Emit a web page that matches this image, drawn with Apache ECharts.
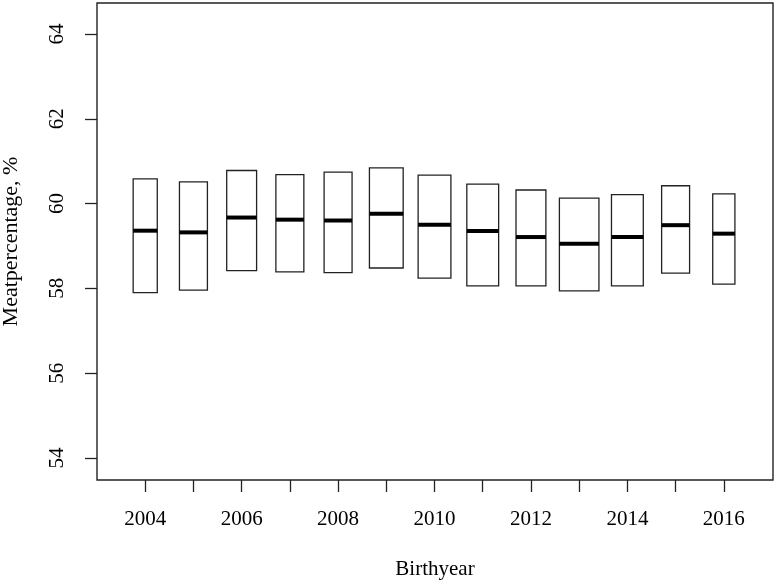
<!DOCTYPE html>
<html>
<head>
<meta charset="utf-8">
<script src="https://cdn.jsdelivr.net/npm/echarts@6/dist/echarts.min.js"></script>
<style>html,body{margin:0;padding:0;background:#fff;}#c{width:776px;height:581px;}</style>
</head>
<body>
<div id="c"></div>
<script>
// Data
const years = [2004, 2005, 2006, 2007, 2008, 2009, 2010, 2011, 2012, 2013, 2014, 2015, 2016];
const lowerQ = [57.90, 57.96, 58.42, 58.39, 58.37, 58.48, 58.24, 58.06, 58.06, 57.94, 58.06, 58.36, 58.10];
const medians = [59.36, 59.32, 59.67, 59.62, 59.60, 59.76, 59.50, 59.35, 59.21, 59.05, 59.21, 59.49, 59.29];
const upperQ = [60.58, 60.51, 60.78, 60.68, 60.74, 60.84, 60.67, 60.46, 60.32, 60.13, 60.21, 60.42, 60.23];
// relative box width (varwidth), in years
const relWidth = [0.50, 0.58, 0.62, 0.58, 0.58, 0.70, 0.68, 0.66, 0.62, 0.82, 0.66, 0.58, 0.46];
const xLabelYears = [2004, 2006, 2008, 2010, 2012, 2014, 2016];
const yTicks = [54, 56, 58, 60, 62, 64];

const FONT = 'Liberation Serif';
const boxData = years.map((y, i) => [y, lowerQ[i], medians[i], upperQ[i], relWidth[i]]);

const chart = echarts.init(document.getElementById('c'), null, {renderer: 'canvas'});
chart.setOption({
  backgroundColor: '#fff',
  animation: false,
  grid: {left: 97, right: 3, top: 3, bottom: 101, containLabel: false, outerBoundsMode: 'none',
         show: true, borderColor: '#222', borderWidth: 1.4, backgroundColor: 'transparent'},
  xAxis: {
    type: 'value', min: 2003, max: 2017.02,
    name: 'Birthyear', nameLocation: 'middle', nameGap: 79,
    nameTextStyle: {fontFamily: FONT, fontSize: 21, color: '#000'},
    axisLine: {show: false},
    splitLine: {show: false},
    axisTick: {show: true, customValues: years, length: 12, lineStyle: {color: '#222', width: 1.3}},
    axisLabel: {customValues: xLabelYears, margin: 29, fontFamily: FONT, fontSize: 21, color: '#000', formatter: v => String(v)}
  },
  yAxis: {
    type: 'value', min: 53.48, max: 64.73,
    name: 'Meatpercentage, %', nameLocation: 'middle', nameGap: 75, nameRotate: 90,
    nameTextStyle: {fontFamily: FONT, fontSize: 22, color: '#000'},
    axisLine: {show: false},
    splitLine: {show: false},
    axisTick: {show: true, customValues: yTicks, length: 12, lineStyle: {color: '#222', width: 1.3}},
    axisLabel: {customValues: yTicks, rotate: 90, margin: 29, align: 'center', verticalAlign: 'bottom', fontFamily: FONT, fontSize: 21, color: '#000', formatter: v => String(v)}
  },
  series: [{
    type: 'custom',
    data: boxData,
    encode: {x: 0, y: [1, 2, 3]},
    renderItem: function (params, api) {
      const x = api.value(0), lo = api.value(1), med = api.value(2), hi = api.value(3), w = api.value(4);
      const tl = api.coord([x - w / 2, hi]);
      const br = api.coord([x + w / 2, lo]);
      const m = api.coord([x, med]);
      return {
        type: 'group',
        children: [
          {type: 'rect', shape: {x: tl[0], y: tl[1], width: br[0] - tl[0], height: br[1] - tl[1]},
           style: {fill: '#fff', stroke: '#222', lineWidth: 1.3}},
          {type: 'line', shape: {x1: tl[0], y1: m[1], x2: br[0], y2: m[1]},
           style: {stroke: '#000', lineWidth: 4}}
        ]
      };
    }
  }]
});
</script>
</body>
</html>
